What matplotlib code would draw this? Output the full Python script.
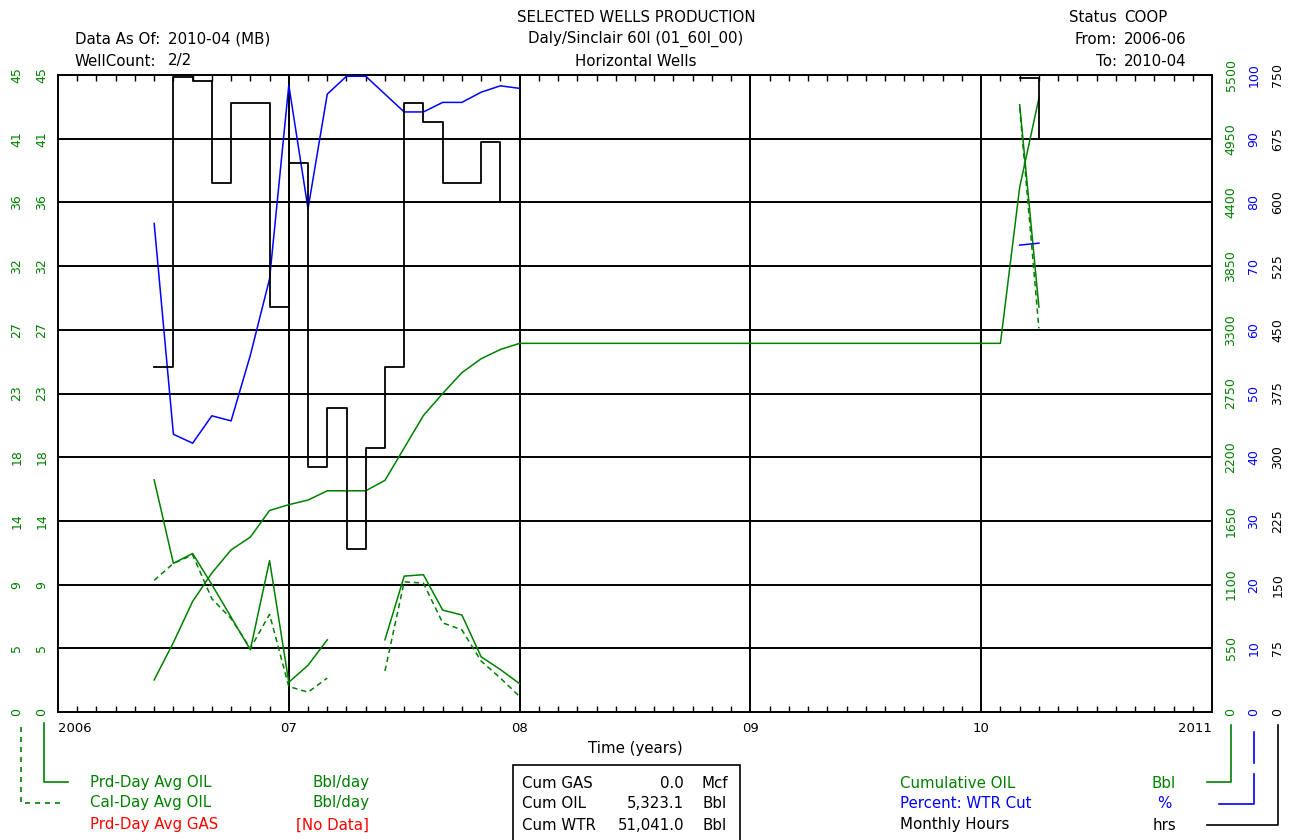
import numpy as np
import matplotlib
matplotlib.use("Agg")
import matplotlib.pyplot as plt
from matplotlib.lines import Line2D
from matplotlib.patches import Rectangle
import matplotlib.transforms as mtransforms

plt.rcParams['font.family'] = ['DejaVu Sans']

# ----------------------------------------------------------
# data (monthly)
# ----------------------------------------------------------
months = ['2006-06', '2006-07', '2006-08', '2006-09', '2006-10', '2006-11', '2006-12',
          '2007-01', '2007-02', '2007-03', '2007-04', '2007-05', '2007-06', '2007-07',
          '2007-08', '2007-09', '2007-10', '2007-11', '2007-12', '2008-01',
          '2010-02', '2010-03', '2010-04']
nan = np.nan
prd_oil = [16.4, 10.5, 11.2, 9.0, 6.7, 4.4, 10.7, 2.1, 3.3, 5.1, nan, nan, 5.1, 9.6,
           9.7, 7.2, 6.85, 3.9, 3.0, 2.0, nan, 42.9, 28.6]
cal_oil = [9.3, 10.5, 11.1, 8.0, 6.6, 4.5, 6.9, 1.8, 1.4, 2.4, nan, nan, 2.9, 9.2,
           9.1, 6.3, 5.8, 3.6, 2.4, 1.1, nan, 42.7, 27.1]
cum_oil = [277, 600, 955, 1200, 1400, 1510, 1740, 1790, 1830, 1910, 1910, 1910, 2000, 2280,
           2560, 2750, 2930, 3050, 3130, 3183, 3183, 4530, 5300]
wtr_cut = [76.7, 43.6, 42.2, 46.5, 45.7, 56, 68, 98.4, 79, 97, 99.8, 99.8, 97, 94.2,
           94.2, 95.7, 95.7, 97.3, 98.3, 97.9, nan, 73.3, 73.6]
hours = [406, 748, 743, 623, 717, 717, 477, 646, 288, 358, 192, 311, 406, 717,
         695, 623, 623, 671, 600, nan, nan, 746, 675]

oil_ticks = [0, 4.5, 9, 13.5, 18, 22.5, 27, 31.5, 36, 40.5, 45]
oil_labels = ['0', '5', '9', '14', '18', '23', '27', '32', '36', '41', '45']
cum_ticks = [0, 550, 1100, 1650, 2200, 2750, 3300, 3850, 4400, 4950, 5500]
wtr_ticks = [0, 10, 20, 30, 40, 50, 60, 70, 80, 90, 100]
hrs_ticks = [0, 75, 150, 225, 300, 375, 450, 525, 600, 675, 750]
year_ticks = [2006, 2007, 2008, 2009, 2010, 2011]
year_labels = ['2006', '07', '08', '09', '10', '2011']

t = np.array([int(m[:4]) + (int(m[5:]) - 1) / 12 for m in months])

GREEN = '#008000'
BLUE = '#0000ff'
RED = '#ff0000'

W, H = 1291, 840
fig = plt.figure(figsize=(W / 100, H / 100), dpi=100)
fig.patch.set_facecolor('white')


def fx(x):
    return x / W


def fy(y):
    return 1 - y / H


ax = fig.add_axes([fx(58), fy(712), 1154 / W, 637 / H])
ax.set_xlim(2006, 2011)
ax.set_ylim(0, 45)

# grid
for v in oil_ticks[1:-1]:
    ax.axhline(v, color='black', lw=1.4, zorder=1)
for v in year_ticks[1:-1]:
    ax.axvline(v, color='black', lw=1.4, zorder=1)
for s in ax.spines.values():
    s.set_linewidth(1.4)

ax.set_yticks([])
ax.set_xticks(year_ticks)
ax.set_xticklabels(year_labels, fontsize=9.5)
ax.set_xticks(np.arange(2006, 2011, 1 / 12), minor=True)
ax.tick_params(axis='x', which='major', length=0, pad=7)
ax.tick_params(axis='x', which='minor', direction='in', length=4, width=1, top=True, bottom=True)
xl = ax.get_xticklabels()
xl[0].set_ha('left')
xl[-1].set_ha('right')
ax.text(0.5, -0.057, 'Time (years)', transform=ax.transAxes, ha='center', va='center', fontsize=10.8)

# twin scales
ax_cum = ax.twinx()
ax_wtr = ax.twinx()
ax_hrs = ax.twinx()
for a, top in [(ax_cum, 5500), (ax_wtr, 100), (ax_hrs, 750)]:
    a.set_ylim(0, top)
    a.set_yticks([])
    for s in a.spines.values():
        s.set_visible(False)

# series
ax_hrs.plot(t, hours, color='black', lw=1.3, drawstyle='steps-post', zorder=3)
ax_wtr.plot(t, wtr_cut, color=BLUE, lw=1.1, zorder=4)
ax_cum.plot(t, cum_oil, color=GREEN, lw=1.1, zorder=4)
ax.plot(t, prd_oil, color=GREEN, lw=1.1, zorder=5)
ax.plot(t, cal_oil, color=GREEN, lw=1.1, dashes=(3.5, 2.5), zorder=5)

# rotated axis labels
def col_labels(a, xpos, ticks, labels, color):
    tr = mtransforms.blended_transform_factory(a.transAxes, a.transData)
    for v, lab in zip(ticks, labels):
        a.text(xpos, v, lab, transform=tr, rotation=90, ha='center', va='center',
               fontsize=9, color=color, clip_on=False)


col_labels(ax, (16.7 - 58) / 1154, oil_ticks, oil_labels, GREEN)
col_labels(ax, (41.7 - 58) / 1154, oil_ticks, oil_labels, GREEN)
col_labels(ax_cum, (1231 - 58) / 1154, cum_ticks, [str(v) for v in cum_ticks], GREEN)
col_labels(ax_wtr, (1254 - 58) / 1154, wtr_ticks, [str(v) for v in wtr_ticks], BLUE)
col_labels(ax_hrs, (1278 - 58) / 1154, hrs_ticks, [str(v) for v in hrs_ticks], 'black')


# legend connectors
def seg(xs, ys, color, ls='-'):
    fig.add_artist(Line2D([fx(x) for x in xs], [fy(y) for y in ys], color=color,
                          lw=1.2, ls=ls, dashes=(3, 3) if ls == '--' else (None, None)))


seg([21, 21, 62], [727, 803, 803], GREEN, '--')
seg([44, 44, 68], [723, 782, 782], GREEN)
seg([1231, 1231, 1207], [725, 782, 782], GREEN)
seg([1254, 1254], [732, 763], BLUE)
seg([1254, 1254, 1219], [774, 804, 804], BLUE)
seg([1278, 1278, 1207], [725, 825, 825], 'black')

fs = 10.8
# header
fig.text(fx(636), fy(17), 'SELECTED WELLS PRODUCTION', ha='center', va='center', fontsize=fs)
fig.text(fx(636), fy(39), 'Daly/Sinclair 60I (01_60I_00)', ha='center', va='center', fontsize=fs)
fig.text(fx(636), fy(61), 'Horizontal Wells', ha='center', va='center', fontsize=fs)
fig.text(fx(160), fy(39), 'Data As Of:', ha='right', va='center', fontsize=fs)
fig.text(fx(168), fy(39), '2010-04 (MB)', ha='left', va='center', fontsize=fs)
fig.text(fx(156), fy(61), 'WellCount:', ha='right', va='center', fontsize=fs)
fig.text(fx(168), fy(61), '2/2', ha='left', va='center', fontsize=fs)
for yy, lab, val in [(17, 'Status', 'COOP'), (39, 'From:', '2006-06'), (61, 'To:', '2010-04')]:
    fig.text(fx(1117), fy(yy), lab, ha='right', va='center', fontsize=fs)
    fig.text(fx(1124), fy(yy), val, ha='left', va='center', fontsize=fs)

# bottom legend
fig.text(fx(90), fy(783), 'Prd-Day Avg OIL', color=GREEN, va='center', fontsize=fs)
fig.text(fx(369), fy(783), 'Bbl/day', color=GREEN, ha='right', va='center', fontsize=fs)
fig.text(fx(90), fy(803), 'Cal-Day Avg OIL', color=GREEN, va='center', fontsize=fs)
fig.text(fx(369), fy(803), 'Bbl/day', color=GREEN, ha='right', va='center', fontsize=fs)
fig.text(fx(90), fy(825), 'Prd-Day Avg GAS', color=RED, va='center', fontsize=fs)
fig.text(fx(369), fy(825), '[No Data]', color=RED, ha='right', va='center', fontsize=fs)

fig.add_artist(Rectangle((fx(513), fy(845)), (740 - 513) / W, (845 - 765) / H,
                         fill=False, ec='black', lw=1.2, transform=fig.transFigure))
for yy, lab, val, unit in [(783, 'Cum GAS', '0.0', 'Mcf'), (803, 'Cum OIL', '5,323.1', 'Bbl'),
                           (825, 'Cum WTR', '51,041.0', 'Bbl')]:
    fig.text(fx(522), fy(yy), lab, va='center', fontsize=fs)
    fig.text(fx(684), fy(yy), val, ha='right', va='center', fontsize=fs)
    fig.text(fx(715), fy(yy), unit, ha='center', va='center', fontsize=fs)

for yy, lab, unit, c in [(783, 'Cumulative OIL', 'Bbl', GREEN), (803, 'Percent: WTR Cut', '%', BLUE),
                         (825, 'Monthly Hours', 'hrs', 'black')]:
    fig.text(fx(900), fy(yy), lab, color=c, va='center', fontsize=fs)
    fig.text(fx(1164), fy(yy), unit, color=c, ha='center', va='center', fontsize=fs)

fig.savefig('out.png', dpi=100)
